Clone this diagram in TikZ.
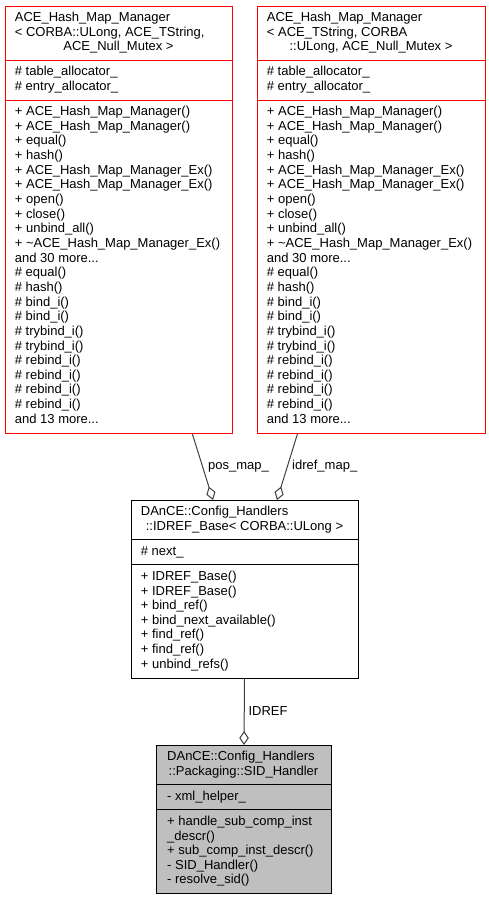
\documentclass[tikz,border=0pt]{standalone}
\usepackage{fontspec}
\setmainfont{Liberation Sans}
\usetikzlibrary{arrows.meta}
\definecolor{edgegrey}{HTML}{404040}
\definecolor{boxgrey}{HTML}{BFBFBF}
\tikzset{cls/.style = {draw, rectangle, line width = 1pt, inner sep = 0, anchor = north west}}
\tikzset{txt/.style = {inner sep = 0, anchor = base west, font = \fontsize{13}{14.65}\selectfont}}
\tikzset{ttl/.style = {txt, anchor = base}}
\tikzset{aggr/.style = {draw = edgegrey, line width = 1pt,
                        -{Diamond[fill = white, length = 14pt, width = 9.5pt]}}}
\newcommand{\classrows}[1]{\begin{tabular}[t]{@{}l@{}}#1\end{tabular}}
\newcommand{\hashops}{\classrows{+ ACE\_Hash\_Map\_Manager()\\+ ACE\_Hash\_Map\_Manager()\\
  + equal()\\+ hash()\\+ ACE\_Hash\_Map\_Manager\_Ex()\\+ ACE\_Hash\_Map\_Manager\_Ex()\\
  + open()\\+ close()\\+ unbind\_all()\\+ \textasciitilde ACE\_Hash\_Map\_Manager\_Ex()\\
  and 30 more...\\\# equal()\\\# hash()\\\# bind\_i()\\\# bind\_i()\\\# trybind\_i()\\
  \# trybind\_i()\\\# rebind\_i()\\\# rebind\_i()\\\# rebind\_i()\\\# rebind\_i()\\
  and 13 more...}}

\begin{document}
\begin{tikzpicture}[x = 1pt, y = -1pt]
    \useasboundingbox (0, 0) rectangle (489, 901);

    % ACE_Hash_Map_Manager < CORBA::ULong, ... >
    \node [cls, draw = red, minimum width = 227pt, minimum height = 426.75pt] (hashl) at (5, 6) {};
    \draw [red, line width = 1pt] (5, 60.35) -- (232, 60.35);
    \draw [red, line width = 1pt] (5, 100.05) -- (232, 100.05);
    \node [txt] (hashl-name) at (14.7, 21.6) {\classrows{ACE\_Hash\_Map\_Manager\\< CORBA::ULong, ACE\_TString,}};
    \node [ttl] (hashl-args) at (118.5, 50.9) {ACE\_Null\_Mutex >};
    \node [txt] (hashl-attr) at (14.7, 75.95) {\classrows{\# table\_allocator\_\\\# entry\_allocator\_}};
    \node [txt] (hashl-ops) at (14.7, 115.65) {\hashops};

    % ACE_Hash_Map_Manager < ACE_TString, ... >
    \node [cls, draw = red, minimum width = 228pt, minimum height = 426.75pt] (hashr) at (257, 6) {};
    \draw [red, line width = 1pt] (257, 60.35) -- (485, 60.35);
    \draw [red, line width = 1pt] (257, 100.05) -- (485, 100.05);
    \node [txt] (hashr-name) at (266.7, 21.6) {\classrows{ACE\_Hash\_Map\_Manager\\< ACE\_TString, CORBA}};
    \node [ttl] (hashr-args) at (371, 50.9) {::ULong, ACE\_Null\_Mutex >};
    \node [txt] (hashr-attr) at (266.7, 75.95) {\classrows{\# table\_allocator\_\\\# entry\_allocator\_}};
    \node [txt] (hashr-ops) at (266.7, 115.65) {\hashops};

    % IDREF_Base
    \node [cls, minimum width = 227pt, minimum height = 177.7pt] (idref) at (131, 500) {};
    \draw [line width = 1pt] (131, 539.7) -- (358, 539.7);
    \draw [line width = 1pt] (131, 564.75) -- (358, 564.75);
    \node [txt] (idref-name) at (140.7, 515.6) {DAnCE::Config\_Handlers};
    \node [ttl] (idref-args) at (244.5, 530.25) {::IDREF\_Base< CORBA::ULong >};
    \node [txt] (idref-attr) at (140.7, 555.3) {\# next\_};
    \node [txt] (idref-ops) at (140.7, 580.35) {\classrows{+ IDREF\_Base()\\+ IDREF\_Base()\\+ bind\_ref()\\
      + bind\_next\_available()\\+ find\_ref()\\+ find\_ref()\\+ unbind\_refs()}};

    % SID_Handler
    \node [cls, fill = boxgrey, minimum width = 175pt, minimum height = 148.4pt] (sid) at (156, 745) {};
    \draw [line width = 1pt] (156, 784.7) -- (331, 784.7);
    \draw [line width = 1pt] (156, 809.75) -- (331, 809.75);
    \node [txt] (sid-name) at (167, 760.6) {DAnCE::Config\_Handlers};
    \node [ttl] (sid-args) at (243.5, 775.25) {::Packaging::SID\_Handler};
    \node [txt] (sid-attr) at (167, 800.3) {- xml\_helper\_};
    \node [txt] (sid-ops) at (167, 825.35) {\classrows{+ handle\_sub\_comp\_inst\\\_descr()\\
      + sub\_comp\_inst\_descr()\\- SID\_Handler()\\- resolve\_sid()}};

    \draw [aggr] ([xshift = 73.3pt]hashl.south) -- ([xshift = -32pt]idref.north);
    \draw [aggr] ([xshift = -74pt]hashr.south) -- ([xshift = 32pt]idref.north);
    \draw [aggr] ([xshift = -0.5pt]idref.south) -- (sid.north);
    \node [txt] (posmap) at (208, 469.5) {pos\_map\_};
    \node [txt] (idrefmap) at (292, 469.5) {idref\_map\_};
    \node [txt] (idreflbl) at (248.3, 715) {IDREF};
  \end{tikzpicture}
\end{document}
